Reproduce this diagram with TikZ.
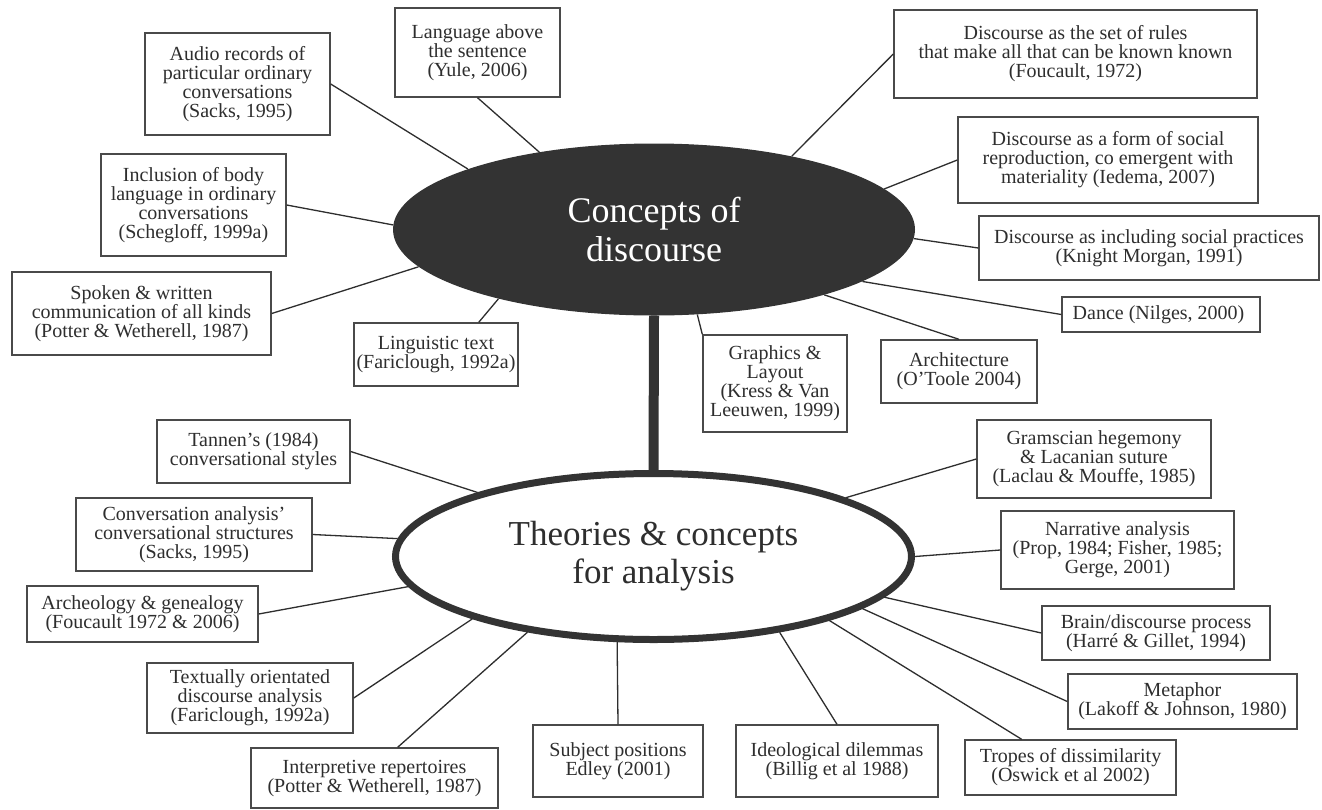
\documentclass[tikz,border=0pt]{standalone}
\usepackage{fontspec}
\setmainfont{Liberation Serif}
\usetikzlibrary{shapes.geometric}
\definecolor{inkgray}{HTML}{2E2E2E}
\definecolor{blobgray}{HTML}{333333}
\definecolor{rulegray}{HTML}{4A4A4A}

\begin{document}
\begin{tikzpicture}[x=1pt, y=-1pt, style={
  textbox/.style={
    draw=rulegray,
    line width=1.4pt,
    text=inkgray,
    align=center,
    inner sep=0pt,
    font=\fontsize{20}{19}\selectfont,
  },
  conceptstyle/.style={
    ellipse,
    fill=blobgray,
    text=white,
    align=center,
    inner sep=0pt,
    minimum width=522pt,
    minimum height=172pt,
    font=\fontsize{36}{39}\selectfont,
  },
  theorystyle/.style={
    ellipse,
    draw=blobgray,
    line width=7pt,
    fill=white,
    text=inkgray,
    align=center,
    inner sep=0pt,
    minimum width=516pt,
    minimum height=166pt,
    font=\fontsize{35}{38}\selectfont,
  },
  spoke/.style={draw=inkgray, line width=1.3pt},
  bar/.style={draw=blobgray, line width=10pt}
}]
\fill[white] (0,0) rectangle (1322,809);
\useasboundingbox (0,0) rectangle (1322,809);

% the two hubs
\draw[]
  node[conceptstyle] (concepts) at (654,229.5) {Concepts of\\discourse}
  node[theorystyle] (theories) at (653.5,556.5) {Theories \& concepts\\for analysis}
;
\draw[bar] (concepts.south) -- (theories.north);

% concepts of discourse
\draw[]
  node[textbox, minimum width=185pt, minimum height=102pt] (audio) at (237.5,84) {
    Audio records of\\particular ordinary\\conversations\\(Sacks, 1995)
  }
  node[textbox, minimum width=185pt, minimum height=102pt] (bodylang) at (193.5,205) {
    Inclusion of body\\language in ordinary\\conversations\\(Schegloff, 1999a)
  }
  node[textbox, minimum width=259pt, minimum height=83pt] (spoken) at (141.5,313.5) {
    Spoken \& written\\communication of all kinds\\(Potter \& Wetherell, 1987)
  }
  node[textbox, minimum width=165pt, minimum height=89pt] (yule) at (477.5,52.5) {
    Language above\\the sentence\\(Yule, 2006)
  }
  node[textbox, minimum width=363pt, minimum height=88pt] (rules) at (1075.5,54) {
    Discourse as the set of rules\\that make all that can be known known\\(Foucault, 1972)
  }
  node[textbox, minimum width=300pt, minimum height=86pt] (iedema) at (1108,160) {
    Discourse as a form of social\\reproduction, co emergent with\\materiality (Iedema, 2007)
  }
  node[textbox, minimum width=340pt, minimum height=64pt] (practices) at (1149,248) {
    Discourse as including social practices\\(Knight Morgan, 1991)
  }
  node[textbox, minimum width=198pt, minimum height=35pt] (dance) at (1161,314.5) {
    Dance (Nilges, 2000)
  }
  node[textbox, minimum width=156pt, minimum height=63pt] (archi) at (959,371.5) {
    Architecture\\(O’Toole 2004)
  }
  node[textbox, minimum width=144pt, minimum height=97pt] (graphics) at (775,383.5) {
    Graphics \&\\Layout\\(Kress \& Van\\Leeuwen, 1999)
  }
  node[textbox, minimum width=164pt, minimum height=63pt] (lingtext) at (436,354.5) {
    Linguistic text\\(Fariclough, 1992a)
  }
;
\draw[spoke] (audio.east) -- (concepts.162);
\draw[spoke] (bodylang.east) -- (concepts.179);
\draw[spoke] (spoken.east) -- (concepts.-171);
\draw[spoke] (yule.south) -- (concepts.146);
\draw[spoke] (rules.west) -- (concepts.28);
\draw[spoke] (iedema.west) -- (concepts.10);
\draw[spoke] (practices.west) -- (concepts.-2);
\draw[spoke] (dance.west) -- (concepts.-14);
\draw[spoke] (archi.north) -- (concepts.-21);
\draw[spoke] (graphics.north west) -- (concepts.-63);
\draw[spoke] (lingtext.37) -- (concepts.-156);

% theories and concepts for analysis
\draw[]
  node[textbox, minimum width=193pt, minimum height=63pt] (tannen) at (253.5,451.5) {
    Tannen’s (1984)\\conversational styles
  }
  node[textbox, minimum width=236pt, minimum height=73pt] (convan) at (194,534.5) {
    Conversation analysis’\\conversational structures\\(Sacks, 1995)
  }
  node[textbox, minimum width=231pt, minimum height=56pt] (archeo) at (142.5,614) {
    Archeology \& genealogy\\(Foucault 1972 \& 2006)
  }
  node[textbox, minimum width=206pt, minimum height=70pt] (textual) at (250,698) {
    Textually orientated\\discourse analysis\\(Fariclough, 1992a)
  }
  node[textbox, minimum width=247pt, minimum height=60pt] (repert) at (374.5,778) {
    Interpretive repertoires\\(Potter \& Wetherell, 1987)
  }
  node[textbox, minimum width=170pt, minimum height=72pt] (subjpos) at (618,761) {
    Subject positions\\Edley (2001)
  }
  node[textbox, minimum width=202pt, minimum height=72pt] (dilemma) at (837,761) {
    Ideological dilemmas\\(Billig et al 1988)
  }
  node[textbox, minimum width=211pt, minimum height=55pt] (tropes) at (1070.5,767.5) {
    Tropes of dissimilarity\\(Oswick et al 2002)
  }
  node[textbox, minimum width=229pt, minimum height=55pt] (metaphor) at (1182.5,701.5) {
    Metaphor\\(Lakoff \& Johnson, 1980)
  }
  node[textbox, minimum width=228pt, minimum height=54pt] (brain) at (1156,633) {
    Brain/discourse process\\(Harré \& Gillet, 1994)
  }
  node[textbox, minimum width=233pt, minimum height=78pt] (narrative) at (1117.5,550) {
    Narrative analysis\\(Prop, 1984; Fisher, 1985;\\Gerge, 2001)
  }
  node[textbox, minimum width=234pt, minimum height=78pt] (hegemony) at (1094,459) {
    Gramscian hegemony\\\& Lacanian suture\\(Laclau \& Mouffe, 1985)
  }
;
\draw[spoke] (tannen.east) -- (theories.160);
\draw[spoke] (convan.east) -- (theories.176);
\draw[spoke] (archeo.east) -- (theories.-173);
\draw[spoke] (textual.east) -- (theories.-161);
\draw[spoke] (repert.53) -- (theories.-149);
\draw[spoke] (subjpos.north) -- (theories.-113);
\draw[spoke] (dilemma.north) -- (theories.-31);
\draw[spoke] (tropes.150) -- (theories.-20);
\draw[spoke] (metaphor.west) -- (theories.-14);
\draw[spoke] (brain.west) -- (theories.-10);
\draw[spoke] (narrative.west) -- (theories.0);
\draw[spoke] (hegemony.west) -- (theories.17);
\end{tikzpicture}
\end{document}
